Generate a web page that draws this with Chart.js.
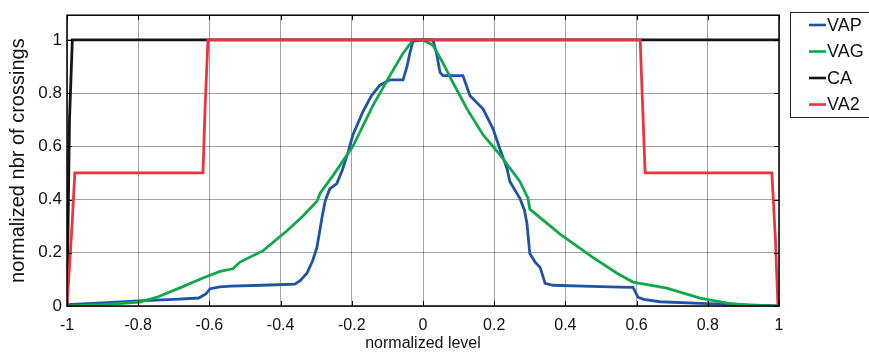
<!DOCTYPE html>
<html>
<head>
<meta charset="utf-8">
<script src="https://cdn.jsdelivr.net/npm/chart.js@4/dist/chart.umd.min.js"></script>
<style>
  html, body { margin: 0; padding: 0; background: #fff; }
  #wrap { width: 869px; height: 354px; }
</style>
</head>
<body>
<div id="wrap"><canvas id="crossChart" width="869" height="354"></canvas></div>
<script>
// valeurs
const xTicks = [-1, -0.8, -0.6, -0.4, -0.2, 0, 0.2, 0.4, 0.6, 0.8, 1];
const yTicks = [0, 0.2, 0.4, 0.6, 0.8, 1];
const seriesNames = ["VAP", "VAG", "CA", "VA2"];

const vapX = [-1, -0.9, -0.8, -0.7, -0.63, -0.61, -0.598, -0.57, -0.54, -0.45, -0.36, -0.345, -0.326, -0.31, -0.298, -0.284, -0.275, -0.262, -0.242, -0.225, -0.21, -0.197, -0.169, -0.145, -0.121, -0.093, -0.056, -0.045, -0.037, -0.028, 0, 0.028, 0.038, 0.048, 0.056, 0.112, 0.132, 0.169, 0.197, 0.216, 0.236, 0.244, 0.272, 0.285, 0.292, 0.3, 0.315, 0.329, 0.343, 0.365, 0.45, 0.553, 0.59, 0.604, 0.62, 0.666, 0.778, 0.91, 1];
const vapY = [0.005, 0.012, 0.019, 0.025, 0.03, 0.045, 0.065, 0.072, 0.075, 0.078, 0.082, 0.095, 0.123, 0.17, 0.22, 0.33, 0.394, 0.44, 0.46, 0.517, 0.58, 0.643, 0.73, 0.79, 0.83, 0.85, 0.85, 0.9, 0.95, 0.996, 1, 1, 0.95, 0.877, 0.866, 0.866, 0.79, 0.74, 0.665, 0.59, 0.517, 0.468, 0.405, 0.36, 0.31, 0.197, 0.165, 0.145, 0.085, 0.078, 0.075, 0.071, 0.07, 0.033, 0.025, 0.016, 0.01, 0.004, 0];

const vagX = [-1, -0.9, -0.795, -0.747, -0.683, -0.618, -0.57, -0.534, -0.514, -0.449, -0.382, -0.337, -0.298, -0.289, -0.253, -0.197, -0.14, -0.093, -0.056, -0.028, 0, 0.028, 0.056, 0.084, 0.124, 0.169, 0.216, 0.272, 0.295, 0.3, 0.385, 0.478, 0.545, 0.59, 0.685, 0.778, 0.854, 0.918, 1];
const vagY = [0, 0.005, 0.015, 0.033, 0.068, 0.105, 0.13, 0.14, 0.165, 0.208, 0.283, 0.338, 0.394, 0.424, 0.49, 0.6, 0.755, 0.866, 0.95, 1, 1, 0.98, 0.914, 0.84, 0.74, 0.643, 0.569, 0.468, 0.405, 0.364, 0.27, 0.182, 0.123, 0.09, 0.067, 0.03, 0.011, 0.002, 0];

const caX = [-1, -0.993, -0.985, 1];
const caY = [0, 0.7, 1, 1];

const va2X = [-1, -0.986, -0.978, -0.618, -0.612, -0.604, 0.61, 0.617, 0.624, 0.98, 0.99, 0.997];
const va2Y = [0, 0.3, 0.5, 0.5, 0.75, 1, 1, 0.75, 0.5, 0.5, 0.25, 0];

const colors = ["#1f53a6", "#10a84a", "#151515", "#ee3340"];

function toPoints(xs, ys) {
  return xs.map((x, i) => ({ x: x, y: ys[i] }));
}

const allX = [vapX, vagX, caX, va2X];
const allY = [vapY, vagY, caY, va2Y];
const drawOrder = [3, 2, 1, 0]; // VA2 au-dessus

const datasets = seriesNames.map((name, i) => ({
  label: name,
  data: toPoints(allX[i], allY[i]),
  borderColor: colors[i],
  backgroundColor: colors[i],
  borderWidth: 2.8,
  pointRadius: 0,
  showLine: true,
  tension: 0,
  order: drawOrder[i],
}));

// cadre, graduations internes et légende
const boxPlugin = {
  id: "boxPlugin",
  afterDraw(chart) {
    const ctx = chart.ctx;
    const a = chart.chartArea;
    const xs = chart.scales.x;
    const ys = chart.scales.y;
    ctx.save();
    ctx.strokeStyle = "#000";
    ctx.lineWidth = 1;
    ctx.beginPath();
    xTicks.forEach(v => {
      const px = Math.round(xs.getPixelForValue(v)) + 0.5;
      ctx.moveTo(px, a.bottom); ctx.lineTo(px, a.bottom - 5);
      ctx.moveTo(px, a.top); ctx.lineTo(px, a.top + 5);
    });
    yTicks.forEach(v => {
      const py = Math.round(ys.getPixelForValue(v)) + 0.5;
      ctx.moveTo(a.left, py); ctx.lineTo(a.left + 5, py);
      ctx.moveTo(a.right, py); ctx.lineTo(a.right - 5, py);
    });
    ctx.stroke();
    ctx.lineWidth = 1.5;
    ctx.strokeRect(a.left, a.top, a.right - a.left, a.bottom - a.top);

    // légende
    ctx.fillStyle = "#fff";
    ctx.fillRect(790.5, 12.5, 80, 105);
    ctx.lineWidth = 1;
    ctx.strokeStyle = "#222";
    ctx.strokeRect(790.5, 12.5, 80, 105);
    ctx.font = "18px 'Liberation Sans', Arial, sans-serif";
    ctx.textBaseline = "middle";
    ctx.textAlign = "left";
    chart.data.datasets.forEach((ds, i) => {
      const y = 25 + i * 26.5;
      ctx.strokeStyle = ds.borderColor;
      ctx.lineWidth = 2.6;
      ctx.beginPath();
      ctx.moveTo(809, y); ctx.lineTo(826, y);
      ctx.stroke();
      ctx.fillStyle = "#111";
      ctx.fillText(ds.label, 827, y + 1);
    });
    ctx.restore();
  },
};

const config = {
  type: "scatter",
  data: { datasets: datasets },
  options: {
    responsive: false,
    animation: false,
    layout: { padding: { top: 12, right: 90, left: 0, bottom: 0 } },
    plugins: {
      legend: { display: false },
      tooltip: { enabled: false },
    },
    scales: {
      x: {
        type: "linear",
        min: -1,
        max: 1,
        afterBuildTicks: s => { s.ticks = xTicks.map(v => ({ value: v })); },
        afterFit: s => { s.height = 48; },
        ticks: {
          autoSkip: false,
          maxRotation: 0,
          padding: 10,
          color: "#111",
          font: { family: "'Liberation Sans', Arial", size: 16 },
          callback: v => String(v),
        },
        grid: { color: "rgba(0,0,0,0.36)", lineWidth: 1, drawTicks: false },
        border: { display: false },
        title: {
          display: true,
          text: "normalized level",
          color: "#111",
          font: { family: "'Liberation Sans', Arial", size: 16 },
          padding: { top: 0, bottom: 1 },
        },
      },
      y: {
        type: "linear",
        min: 0,
        max: 1.093,
        afterBuildTicks: s => { s.ticks = yTicks.map(v => ({ value: v })); },
        afterFit: s => { s.width = 67; },
        ticks: {
          padding: 5,
          color: "#111",
          font: { family: "'Liberation Sans', Arial", size: 17 },
          callback: v => String(v),
        },
        grid: { color: "rgba(0,0,0,0.36)", lineWidth: 1, drawTicks: false },
        border: { display: false },
        title: {
          display: true,
          text: "normalized nbr of crossings",
          color: "#111",
          font: { family: "'Liberation Sans', Arial", size: 20 },
          padding: { top: 6, bottom: 0 },
        },
      },
    },
  },
  plugins: [boxPlugin],
};

const crossChart = new Chart(document.getElementById("crossChart"), config);
</script>
</body>
</html>
